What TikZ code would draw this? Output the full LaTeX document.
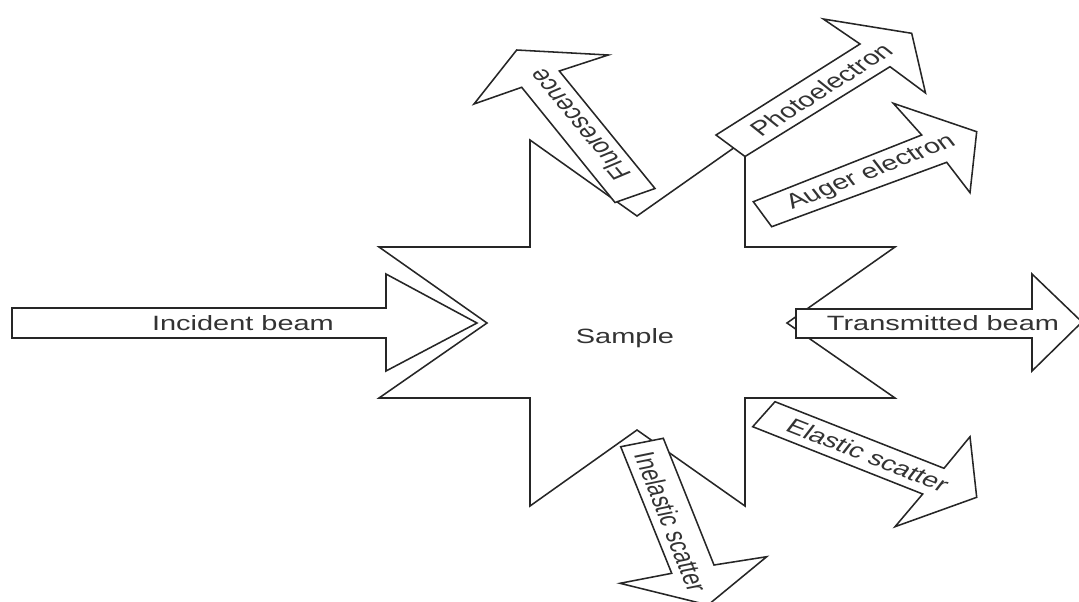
\documentclass[tikz,border=0pt]{standalone}
\usepackage{fontspec}
\setmainfont{Liberation Sans}
\tikzset{
  beam/.style={draw=black!85, line width=1.1pt, fill=white, line join=miter},
  lbl/.style={text=black!80, font=\fontsize{14.7}{17}\selectfont, inner sep=0pt, xscale=1.4, rotate=#1},
  lbl/.default=0
}
\begin{document}
\begin{tikzpicture}[x=0.025cm,y=-0.025cm]
    \useasboundingbox (0,0) rectangle (1079,601);
    \begin{scope}
    \clip (0,0) rectangle (1079,601);

    % sample
    \draw[beam] (530,140) -- (637,216) -- (745,140) -- (745,247) -- (895,247) -- (787,323) -- (895,398)
        -- (745,398) -- (745,506) -- (637,430) -- (530,506) -- (530,398) -- (379,398) -- (487,323)
        -- (379,247) -- (530,247) -- cycle;
    \node[lbl] (sample) at (625,338) {Sample};

    % beams in and out
    \draw[beam] (12,308) -- (386,308) -- (386,274) -- (477,323) -- (386,371) -- (386,338) -- (12,338) -- cycle;
    \node[lbl] (incident) at (243,323) {Incident beam};

    \draw[beam] (796,309) -- (1032,309) -- (1032,274) -- (1082,322) -- (1032,371) -- (1032,338) -- (796,338) -- cycle;
    \node[lbl] (transmitted) at (943,323) {Transmitted beam};

    % emitted
    \draw[beam] (615,202.5) -- (521.7,87.3) -- (474,104) -- (516.7,50) -- (608.3,55) -- (559.3,71) -- (655,188.5) -- cycle;
    \node[lbl=120.6] (fluor) at (579,125) {Fluorescence};

    \draw[beam] (716,135) -- (860,44) -- (823.3,19) -- (911.7,33.3) -- (925.5,93) -- (890,66.7) -- (745,156.5) -- cycle;
    \node[lbl=41.7] (photo) at (821,89.5) {Photoelectron};

    \draw[beam] (753.3,201.7) -- (921.7,135) -- (893.3,103.3) -- (976.7,131.7) -- (970,192.7) -- (946.7,162.3) -- (771.7,226.7) -- cycle;
    \node[lbl=29] (auger) at (871,172.5) {Auger electron};

    \draw[beam] (775,401.7) -- (944,468.3) -- (970,436.7) -- (976.7,497.3) -- (895,526.7) -- (922.7,494) -- (752.7,426.7) -- cycle;
    \node[lbl=-28.9] (elastic) at (868,455) {Elastic scatter};

    \draw[beam] (663.3,438.3) -- (714,565) -- (766.7,556.7) -- (708,605) -- (620,583.3) -- (671.7,573.3) -- (620.7,446.7) -- cycle;
    \node[lbl=-74.2] (inelastic) at (671,522) {Inelastic scatter};
    \end{scope}
\end{tikzpicture}
\end{document}
